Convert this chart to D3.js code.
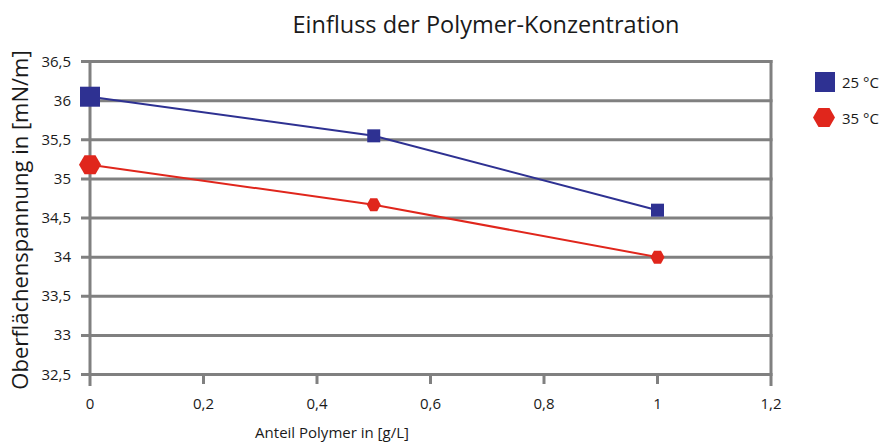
<!DOCTYPE html>
<html><head><meta charset="utf-8">
<script src="https://cdn.jsdelivr.net/npm/d3@7"></script>
<style>body{margin:0;background:#fff;} text{font-family:"Open Sans","Noto Sans",sans-serif;fill:#1a1a1a;}</style>
</head><body><svg id="c" width="883" height="444"></svg>
<script>
const xValues = [0, 0.5, 1];
const series25 = [36.05, 35.55, 34.6];
const series35 = [35.18, 34.67, 34.0];
const seriesNames = ["25 °C", "35 °C"];
const xTicks = [0, 0.2, 0.4, 0.6, 0.8, 1, 1.2];
const yTicks = [32.5, 33, 33.5, 34, 34.5, 35, 35.5, 36, 36.5];
const title = "Einfluss der Polymer-Konzentration";
const xTitle = "Anteil Polymer in [g/L]";
const yTitle = "Oberflächenspannung in [mN/m]";

const svg = d3.select("#c");
const x = d3.scaleLinear().domain([0, 1.2]).range([90, 771]);
const y = d3.scaleLinear().domain([32.5, 36.5]).range([374.5, 61.5]);
const fmt = d => String(d).replace(".", ",");
const grid = "#808080";

svg.append("g").selectAll("line").data(yTicks).join("line")
  .attr("x1", 81).attr("x2", x(1.2)+1.5).attr("y1", d => y(d)).attr("y2", d => y(d))
  .attr("stroke", grid).attr("stroke-width", 3);
svg.append("line").attr("x1", x(0)).attr("x2", x(0)).attr("y1", y(36.5)-1.5).attr("y2", 386)
  .attr("stroke", grid).attr("stroke-width", 3);
svg.append("line").attr("x1", x(1.2)).attr("x2", x(1.2)).attr("y1", y(36.5)-1.5).attr("y2", 386)
  .attr("stroke", grid).attr("stroke-width", 3);
svg.append("g").selectAll("line").data(xTicks.slice(1, -1)).join("line")
  .attr("x1", d => x(d)).attr("x2", d => x(d)).attr("y1", y(32.5)).attr("y2", 384)
  .attr("stroke", grid).attr("stroke-width", 3);

svg.append("g").selectAll("text").data(yTicks).join("text")
  .attr("x", 71).attr("y", d => y(d) + 5).attr("text-anchor", "end")
  .attr("font-size", 15).text(fmt);
svg.append("g").selectAll("text").data(xTicks).join("text")
  .attr("x", d => x(d)).attr("y", 409).attr("text-anchor", "middle")
  .attr("font-size", 15).text(fmt);

svg.append("text").attr("x", 486).attr("y", 33).attr("text-anchor", "middle").attr("font-size", 23.5).text(title);
svg.append("text").attr("x", 332).attr("y", 438).attr("text-anchor", "middle").attr("font-size", 15).text(xTitle);
svg.append("text").attr("transform", "translate(28,220) rotate(-90)").attr("text-anchor", "middle").attr("font-size", 22).text(yTitle);

const colors = ["#2e3192", "#e0261c"];
const line = d3.line().x((d, i) => x(xValues[i])).y(d => y(d));
[series25, series35].forEach((s, k) => {
  svg.append("path").attr("d", line(s)).attr("fill", "none").attr("stroke", colors[k]).attr("stroke-width", 2);
});

function hexPath(cx, cy, w, h) {
  const a = w / 2, b = h / 2, q = w / 4;
  return `M${cx-a},${cy} L${cx-q},${cy-b} L${cx+q},${cy-b} L${cx+a},${cy} L${cx+q},${cy+b} L${cx-q},${cy+b} Z`;
}
series25.forEach((v, i) => {
  const s = i === 0 ? 20 : 13;
  svg.append("rect").attr("x", x(xValues[i]) - s/2).attr("y", y(v) - s/2).attr("width", s).attr("height", s).attr("fill", colors[0]);
});
series35.forEach((v, i) => {
  const w = i === 0 ? 22 : 14, h = i === 0 ? 19 : 13;
  svg.append("path").attr("d", hexPath(x(xValues[i]), y(v), w, h)).attr("fill", colors[1]);
});

svg.append("rect").attr("x", 815).attr("y", 72).attr("width", 20).attr("height", 20).attr("fill", colors[0]);
svg.append("path").attr("d", hexPath(824, 117.5, 22, 19)).attr("fill", colors[1]);
svg.append("g").selectAll("text").data(seriesNames).join("text")
  .attr("x", 842).attr("y", (d, i) => 88 + i * 36).attr("font-size", 15).text(d => d);
</script></body></html>
